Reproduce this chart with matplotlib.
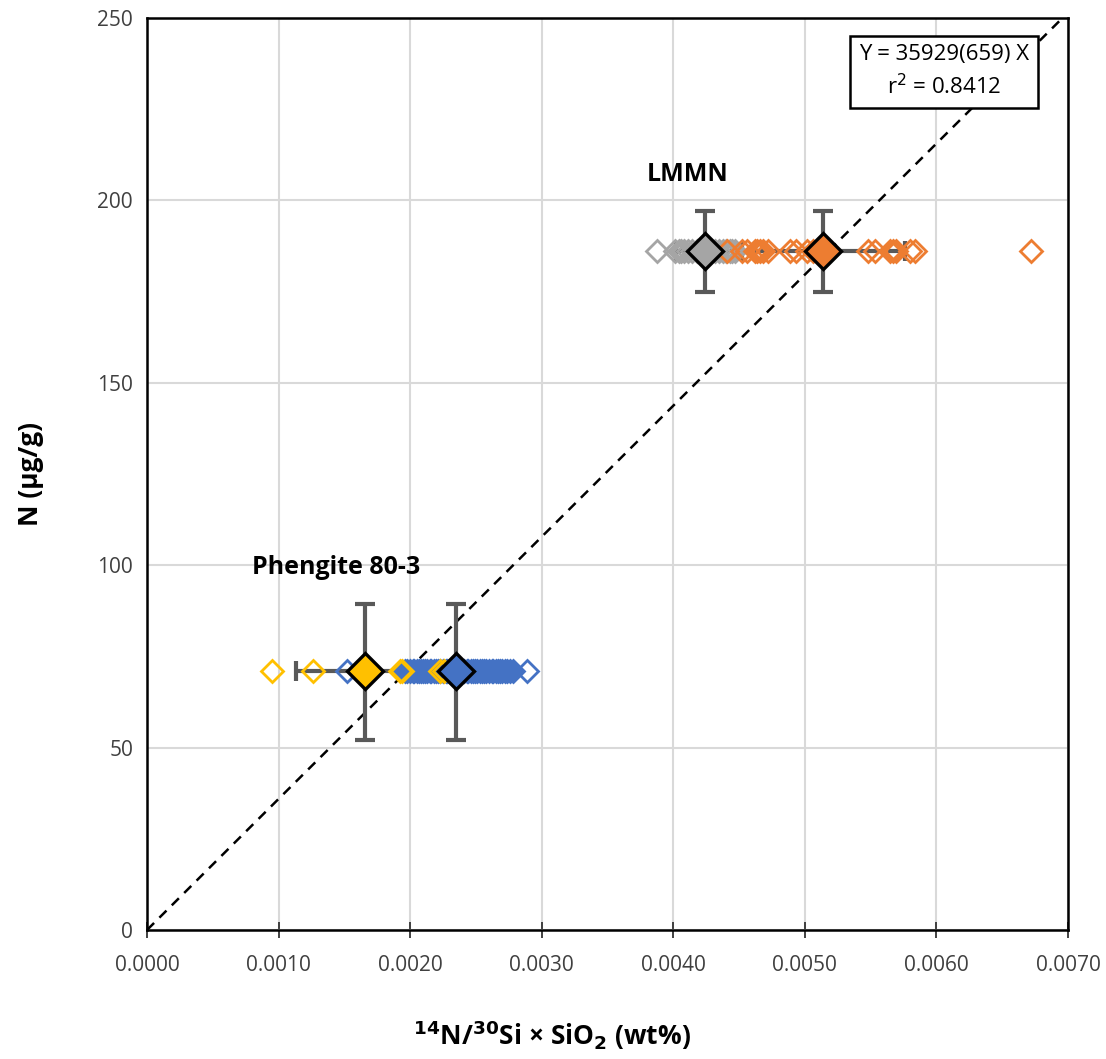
import matplotlib
matplotlib.use("Agg")
import matplotlib.pyplot as plt
import numpy as np

plt.rcParams['font.family'] = ['Open Sans', 'DejaVu Sans']

# Phengite 80-3 (N = 71 ug/g)
phen_N = 71.0
phen_yellow_x = [0.00095, 0.00126, 0.00192, 0.00194, 0.00223, 0.00226]
phen_blue_x = [0.00152, 0.00196, 0.00198, 0.00200, 0.00202, 0.00203, 0.00205, 0.00207,
               0.00208, 0.00210, 0.00211, 0.00213, 0.00215, 0.00216, 0.00218, 0.00220,
               0.00221, 0.00223, 0.00225, 0.00227, 0.00228, 0.00230, 0.00232, 0.00234,
               0.00236, 0.00237, 0.00239, 0.00241, 0.00243, 0.00244, 0.00246, 0.00248,
               0.00249, 0.00251, 0.00253, 0.00255, 0.00256, 0.00258, 0.00260, 0.00262,
               0.00263, 0.00265, 0.00267, 0.00268, 0.00270, 0.00272, 0.00274, 0.00276,
               0.00278, 0.00289]
phen_yellow_mean = 0.00166
phen_blue_mean = 0.00235
phen_yellow_xerr = 0.00053
phen_blue_xerr = 0.00028
phen_yerr_low = 19.0
phen_yerr_high = 18.5

# LMMN (N = 186 ug/g)
lmmn_N = 186.0
lmmn_gray_x = [0.00388, 0.00401, 0.00404, 0.00406, 0.00408, 0.00411, 0.00414, 0.00418,
               0.00432, 0.00435, 0.00438, 0.00440, 0.00443, 0.00445, 0.00447]
lmmn_orange_x = [0.00441, 0.00452, 0.00456, 0.00462, 0.00464, 0.00466, 0.00468, 0.00472,
                 0.00489, 0.00493, 0.00502, 0.00506, 0.00511, 0.00548, 0.00553,
                 0.00565, 0.00567, 0.00569, 0.00580, 0.00584, 0.00672]
lmmn_gray_mean = 0.00424
lmmn_orange_mean = 0.00514
lmmn_gray_xerr = 0.00022
lmmn_orange_xerr = 0.00062
lmmn_yerr = 11.0

slope = 35929
slope_err = 659
r2 = 0.8412

fig = plt.figure(figsize=(11.06, 10.59), dpi=100)
ax = fig.add_axes([0.1329, 0.1218, 0.8327, 0.8612])

c_blue = '#4472C4'
c_yellow = '#FFC000'
c_orange = '#ED7D31'
c_gray = '#A5A5A5'
c_err = '#595959'

# regression line
xl = np.array([0.0, 250 / slope])
ax.plot(xl, slope * xl, ls=(0, (4, 3)), color='black', lw=1.8, zorder=3)

# means with error bars
ekw = dict(ecolor=c_err, elinewidth=3, capsize=7, capthick=3, zorder=4, ls='none')
ax.errorbar([phen_yellow_mean], [phen_N], xerr=[phen_yellow_xerr],
            yerr=[[phen_yerr_low], [phen_yerr_high]], **ekw)
ax.errorbar([phen_blue_mean], [phen_N], xerr=[phen_blue_xerr],
            yerr=[[phen_yerr_low], [phen_yerr_high]], **ekw)
ax.errorbar([lmmn_gray_mean], [lmmn_N], xerr=[lmmn_gray_xerr], yerr=[lmmn_yerr], **ekw)
ax.errorbar([lmmn_orange_mean], [lmmn_N], xerr=[lmmn_orange_xerr], yerr=[lmmn_yerr], **ekw)

ms = 11.5
mew = 2.0
ax.plot(phen_blue_x, [phen_N] * len(phen_blue_x), 'D', ms=ms, mfc='none', mec=c_blue, mew=mew, zorder=5)
ax.plot(phen_yellow_x, [phen_N] * len(phen_yellow_x), 'D', ms=ms, mfc='none', mec=c_yellow, mew=mew, zorder=5)
ax.plot(lmmn_gray_x, [lmmn_N] * len(lmmn_gray_x), 'D', ms=ms, mfc='none', mec=c_gray, mew=mew, zorder=5)
ax.plot(lmmn_orange_x, [lmmn_N] * len(lmmn_orange_x), 'D', ms=ms, mfc='none', mec=c_orange, mew=mew, zorder=5)

mms = 18
ax.plot([phen_yellow_mean], [phen_N], 'D', ms=mms, mfc=c_yellow, mec='black', mew=2.4, zorder=7)
ax.plot([phen_blue_mean], [phen_N], 'D', ms=mms, mfc=c_blue, mec='black', mew=2.4, zorder=7)
ax.plot([lmmn_gray_mean], [lmmn_N], 'D', ms=mms, mfc=c_gray, mec='black', mew=2.4, zorder=7)
ax.plot([lmmn_orange_mean], [lmmn_N], 'D', ms=mms, mfc=c_orange, mec='black', mew=2.4, zorder=7)

ax.set_xlim(0, 0.007)
ax.set_ylim(0, 250)
ax.set_xticks(np.arange(0, 0.00701, 0.001))
ax.set_yticks(np.arange(0, 251, 50))
ax.set_xticklabels([f"{v:.4f}" for v in np.arange(0, 0.00701, 0.001)])
ax.grid(True, color='#D9D9D9', lw=1.5, zorder=0)
ax.set_axisbelow(True)
for s in ax.spines.values():
    s.set_color('black')
    s.set_linewidth(1.8)
ax.tick_params(axis='x', direction='inout', length=12, width=1.3, labelsize=15, pad=12, colors='#333333', labelcolor='#404040')
ax.tick_params(axis='y', length=0, labelsize=15, pad=10, labelcolor='#404040')

ax.set_xlabel(r'$^{\mathbf{14}}$N/$^{\mathbf{30}}$Si × SiO$_{\mathbf{2}}$ (wt%)', fontsize=19,
              fontweight='bold')
ax.xaxis.set_label_coords(0.44, -0.097)
ax.set_ylabel('N (µg/g)', fontsize=19, fontweight='bold', labelpad=38)

ax.text(0.00411, 207, 'LMMN', fontsize=18, fontweight='bold', ha='center', va='center', zorder=8)
ax.text(0.00144, 99.5, 'Phengite 80-3', fontsize=18, fontweight='bold', ha='center', va='center', zorder=8)

ax.text(0.00606, 235.3, f'Y = {slope}({slope_err}) X\nr$^2$ = {r2:.4f}', fontsize=16,
        ha='center', va='center', linespacing=1.4, zorder=9,
        bbox=dict(boxstyle='square,pad=0.4', fc='white', ec='black', lw=1.8))

fig.savefig('out.png', dpi=100)
